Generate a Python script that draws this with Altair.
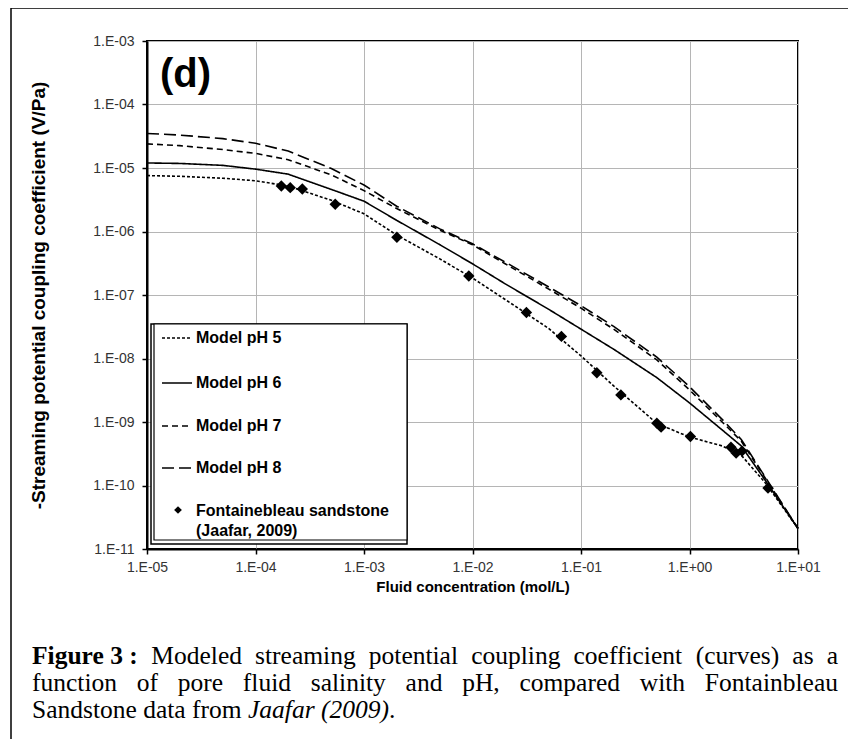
import altair as alt
import pandas as pd

# ---------------- data ----------------
conc = [1e-5, 2e-5, 5e-5, 1e-4, 2e-4, 5e-4, 1e-3, 2e-3, 5e-3, 1e-2, 2e-2,
        5e-2, 1e-1, 2e-1, 5e-1, 1.0, 2.0, 3.0, 5.0, 10.0]
ph5 = [7.6e-6, 7.4e-6, 6.9e-6, 6.3e-6, 5.2e-6, 3.1e-6, 1.9e-6, 8.8e-7, 3.7e-7,
       1.85e-7, 8.5e-8, 3.0e-8, 1.1e-8, 3.7e-9, 9.5e-10, 5.8e-10, 4.2e-10,
       3.0e-10, 1.1e-10, 2.1e-11]
ph6 = [1.2e-5, 1.18e-5, 1.1e-5, 9.6e-6, 8.0e-6, 4.6e-6, 3.0e-6, 1.5e-6, 6.2e-7,
       3.1e-7, 1.5e-7, 6.0e-8, 2.9e-8, 1.4e-8, 5.0e-9, 2.0e-9, 7.5e-10,
       4.2e-10, 1.2e-10, 2.1e-11]
ph7 = [2.4e-5, 2.25e-5, 1.95e-5, 1.7e-5, 1.35e-5, 7.8e-6, 4.4e-6, 2.3e-6,
       1.05e-6, 6.2e-7, 3.1e-7, 1.25e-7, 6.2e-8, 2.9e-8, 9.5e-9, 3.2e-9,
       1.0e-9, 5.0e-10, 1.3e-10, 2.1e-11]
ph8 = [3.5e-5, 3.3e-5, 2.9e-5, 2.45e-5, 1.85e-5, 9.8e-6, 5.4e-6, 2.5e-6,
       1.1e-6, 6.4e-7, 3.3e-7, 1.35e-7, 6.8e-8, 3.2e-8, 1.05e-8, 3.6e-9,
       1.1e-9, 5.3e-10, 1.35e-10, 2.1e-11]

obs_conc = [1.73e-4, 2.09e-4, 2.70e-4, 5.43e-4, 2.01e-3, 9.25e-3, 3.14e-2,
            6.6e-2, 0.14, 0.233, 0.50, 0.547, 1.02, 2.41, 2.69, 3.05, 5.29]
obs_coef = [5.2e-6, 4.9e-6, 4.67e-6, 2.68e-6, 8.1e-7, 1.99e-7, 5.3e-8,
            2.23e-8, 5.97e-9, 2.67e-9, 9.6e-10, 8.3e-10, 5.9e-10, 4.0e-10,
            3.24e-10, 3.48e-10, 9.1e-11]

series_names = ["Model pH 5", "Model pH 6", "Model pH 7", "Model pH 8"]
dash_styles = [[3, 2], [1, 0], [6, 4], [12, 5]]
decade_ticks_y = [1e-11, 1e-10, 1e-9, 1e-8, 1e-7, 1e-6, 1e-5, 1e-4, 1e-3]
decade_ticks_x = [1e-5, 1e-4, 1e-3, 1e-2, 1e-1, 1.0, 10.0]

caption_line1 = [("Figure 3 :", "bold"), ("Modeled", "normal"), ("streaming", "normal"),
                 ("potential", "normal"), ("coupling", "normal"), ("coefficient", "normal"),
                 ("(curves)", "normal"), ("as", "normal"), ("a", "normal")]
caption_line2 = ["function", "of", "pore", "fluid", "salinity", "and", "pH,",
                 "compared", "with", "Fontainbleau"]
caption_line3 = [("Sandstone data from ", "normal"), ("Jaafar (2009)", "italic"), (".", "normal")]

# ---------------- layout constants ----------------
W, H = 651, 508
PAD_L, PAD_T = 139, 33
CAP_FONT = 25.5
CAP_X0, CAP_X1 = 32 - 147, 838 - 147
CAP_Y = [615, 642, 669]

# Times (Liberation Serif) advance widths, per 1000 em
TIMES_N = dict(zip("abcdefghijklmnopqrstuvwxyz",
                   [444, 500, 444, 500, 444, 333, 500, 500, 278, 278, 500, 278, 778,
                    500, 500, 500, 500, 333, 389, 278, 500, 500, 722, 500, 500, 444]))
TIMES_N.update({" ": 250, ",": 250, ".": 250, "(": 333, ")": 333, ":": 278,
                "F": 556, "H": 722, "S": 556, "J": 389, "M": 889})
TIMES_N.update({d: 500 for d in "0123456789"})
TIMES_B = dict(TIMES_N)
TIMES_B.update({"F": 611, "i": 278, "g": 500, "u": 556, "r": 444, "e": 444, ":": 333})
TIMES_I = dict(TIMES_N)
TIMES_I.update({"J": 444, "a": 500, "f": 278, "r": 389, "(": 333, ")": 333})


def text_width(s, style):
    table = {"normal": TIMES_N, "bold": TIMES_B, "italic": TIMES_I}[style]
    return sum(table.get(c, 500) for c in s) * CAP_FONT / 1000.0


def justify(words, y):
    widths = [text_width(w, st) for w, st in words]
    gap = (CAP_X1 - CAP_X0 - sum(widths)) / (len(words) - 1)
    rows, x = [], CAP_X0
    for (w, st), wd in zip(words, widths):
        rows.append({"t": w, "px": x, "py": y, "st": st})
        x += wd + gap
    return rows


cap_rows = justify(caption_line1, CAP_Y[0])
cap_rows += justify([(w, "normal") for w in caption_line2], CAP_Y[1])
x = CAP_X0
for w, st in caption_line3:
    cap_rows.append({"t": w, "px": x, "py": CAP_Y[2], "st": st})
    x += text_width(w, st)
cap_df = pd.DataFrame(cap_rows)

# ---------------- tables ----------------
curve_rows = []
for name, vals in zip(series_names, [ph5, ph6, ph7, ph8]):
    for c, v in zip(conc, vals):
        curve_rows.append({"conc": c, "coef": v, "series": name})
curves_df = pd.DataFrame(curve_rows)
obs_df = pd.DataFrame({"conc": obs_conc, "coef": obs_coef})

label_expr = ("'1.E' + (round(log(datum.value)/LN10) < 0 ? '-' : '+') + "
              "(abs(round(log(datum.value)/LN10)) < 10 ? '0' : '') + "
              "abs(round(log(datum.value)/LN10))")

xscale = alt.Scale(type="log", domain=[1e-5, 10], nice=False)
yscale = alt.Scale(type="log", domain=[1e-11, 1e-3], nice=False)

xenc = alt.X("conc:Q", scale=xscale, axis=alt.Axis(
    values=decade_ticks_x, labelExpr=label_expr, title="Fluid concentration (mol/L)",
    grid=True, gridColor="#b5b5b5", gridWidth=1, domainColor="black", domainWidth=2,
    tickColor="black", tickSize=5, tickWidth=1.5, labelFont="Liberation Sans",
    labelFontSize=14, labelColor="#333333", labelPadding=6, labelFlush=False,
    titleFont="Liberation Sans", titleFontSize=15, titleFontWeight="bold",
    titleColor="black", titlePadding=5))
yenc = alt.Y("coef:Q", scale=yscale, axis=alt.Axis(
    values=decade_ticks_y, labelExpr=label_expr,
    title="-Streaming potential coupling coefficient (V/Pa)",
    grid=True, gridColor="#b5b5b5", gridWidth=1, domainColor="black", domainWidth=2,
    tickColor="black", tickSize=5, tickWidth=1.5, labelFont="Liberation Sans",
    labelFontSize=14, labelColor="#333333", labelPadding=8, labelFlush=False,
    titleFont="Liberation Sans", titleFontSize=19, titleFontWeight="bold",
    titleColor="black", titlePadding=44))

curves = alt.Chart(curves_df).mark_line(strokeWidth=1.6, color="black").encode(
    x=xenc, y=yenc,
    strokeDash=alt.StrokeDash("series:N", scale=alt.Scale(domain=series_names, range=dash_styles),
                              legend=None),
    detail="series:N")

points = alt.Chart(obs_df).mark_point(shape="diamond", filled=True, size=130,
                                      color="black", opacity=1).encode(
    x=alt.X("conc:Q", scale=xscale), y=alt.Y("coef:Q", scale=yscale))

# panel tag
tag = alt.Chart().mark_text(text="(d)", font="Liberation Sans", fontSize=40,
                            fontWeight="bold", align="left", baseline="middle",
                            color="black").encode(x=alt.value(13), y=alt.value(34))

# legend
box_outer = alt.Chart().mark_rect(fill="white", stroke="black", strokeWidth=1.5).encode(
    x=alt.value(4), x2=alt.value(260), y=alt.value(283), y2=alt.value(503))
box_inner = alt.Chart().mark_rect(fill="white", stroke="black", strokeWidth=1.2).encode(
    x=alt.value(7), x2=alt.value(260), y=alt.value(283), y2=alt.value(499))
legend_layers = [box_outer, box_inner]
legend_y = [297, 342, 385, 427]
for name, dash, ly in zip(series_names, dash_styles, legend_y):
    legend_layers.append(alt.Chart().mark_rule(color="black", strokeWidth=1.6,
                                               strokeDash=dash).encode(
        x=alt.value(15), x2=alt.value(45), y=alt.value(ly)))
    legend_layers.append(alt.Chart().mark_text(
        text=name, font="Liberation Sans", fontSize=16, fontWeight="bold",
        align="left", baseline="middle", color="black").encode(
        x=alt.value(49), y=alt.value(ly)))
legend_layers.append(alt.Chart().mark_point(shape="diamond", filled=True, size=60,
                                            color="black", opacity=1).encode(
    x=alt.value(31), y=alt.value(469)))
legend_layers.append(alt.Chart().mark_text(
    text=["Fontainebleau sandstone", "(Jaafar, 2009)"], font="Liberation Sans",
    fontSize=16, fontWeight="bold", align="left", baseline="middle", lineHeight=20,
    color="black").encode(x=alt.value(49), y=alt.value(470)))

# figure frame
frame = alt.Chart().mark_rect(fill=None, stroke="black", strokeWidth=1.5).encode(
    x=alt.value(-136), x2=alt.value(704), y=alt.value(-33), y2=alt.value(800))

# caption
cap_layers = []
for st, weight, fstyle in [("normal", "normal", "normal"), ("bold", "bold", "normal"),
                           ("italic", "normal", "italic")]:
    cap_layers.append(alt.Chart(cap_df).transform_filter(
        alt.datum.st == st).mark_text(
        font="Liberation Serif", fontSize=CAP_FONT, fontWeight=weight, fontStyle=fstyle,
        align="left", baseline="middle", color="black").encode(
        x=alt.X("px:Q", scale=None), y=alt.Y("py:Q", scale=None), text="t:N"))

chart = alt.layer(curves, points, tag, *legend_layers, frame, *cap_layers).properties(
    width=W, height=H,
    autosize=alt.AutoSizeParams(type="none"),
    padding={"left": PAD_L, "top": PAD_T, "right": 50, "bottom": 190},
    background="white",
).configure_view(stroke="black", strokeWidth=2)

chart.save("out.html", embed_options={"renderer": "svg", "actions": False})
